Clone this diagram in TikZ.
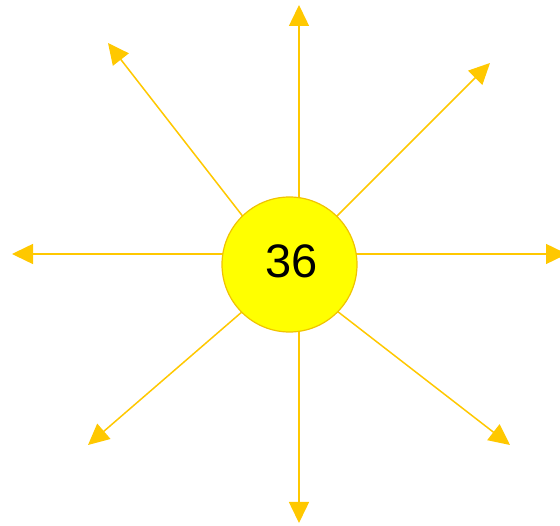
\documentclass[tikz,border=0pt]{standalone}
\usepackage{fontspec}
\setmainfont{Liberation Sans}
\usetikzlibrary{arrows.meta}
\definecolor{ray}{RGB}{255,200,0}
\definecolor{sunfill}{RGB}{255,255,0}
\definecolor{sunline}{RGB}{240,195,0}
\begin{document}
\begin{tikzpicture}[x=1pt,y=-1pt,
  rayline/.style={draw=ray,line width=1.5pt,-{Triangle[length=21pt,width=20pt]}},
  sun/.style={circle,fill=sunfill,draw=sunline,line width=1.2pt,minimum size=135pt,inner sep=0pt}]
\useasboundingbox (0,0) rectangle (560,526);
% start points inside the circle
\coordinate (sU) at (299,230);
\coordinate (sD) at (299,300);
\coordinate (sL) at (260,254);
\coordinate (sR) at (330,254);
\coordinate (sUL) at (262,241);
\coordinate (sUR) at (318,235);
\coordinate (sDL) at (265,292);
\coordinate (sDR) at (315,294);
% tips
\coordinate (tU) at (299,5);
\coordinate (tD) at (299,523);
\coordinate (tL) at (12,254);
\coordinate (tR) at (567,254);
\coordinate (tUL) at (108,43);
\coordinate (tUR) at (490,63);
\coordinate (tDL) at (88,445);
\coordinate (tDR) at (510,445);
\foreach \d in {U,D,L,R,UL,UR,DL,DR}{
  \draw[rayline] (s\d) -- (t\d);
}
\node[sun] (c) at (289.5,264.5) {};
\node[font=\fontsize{47}{50}\selectfont] (num) at (292,261) {36};
\end{tikzpicture}
\end{document}
